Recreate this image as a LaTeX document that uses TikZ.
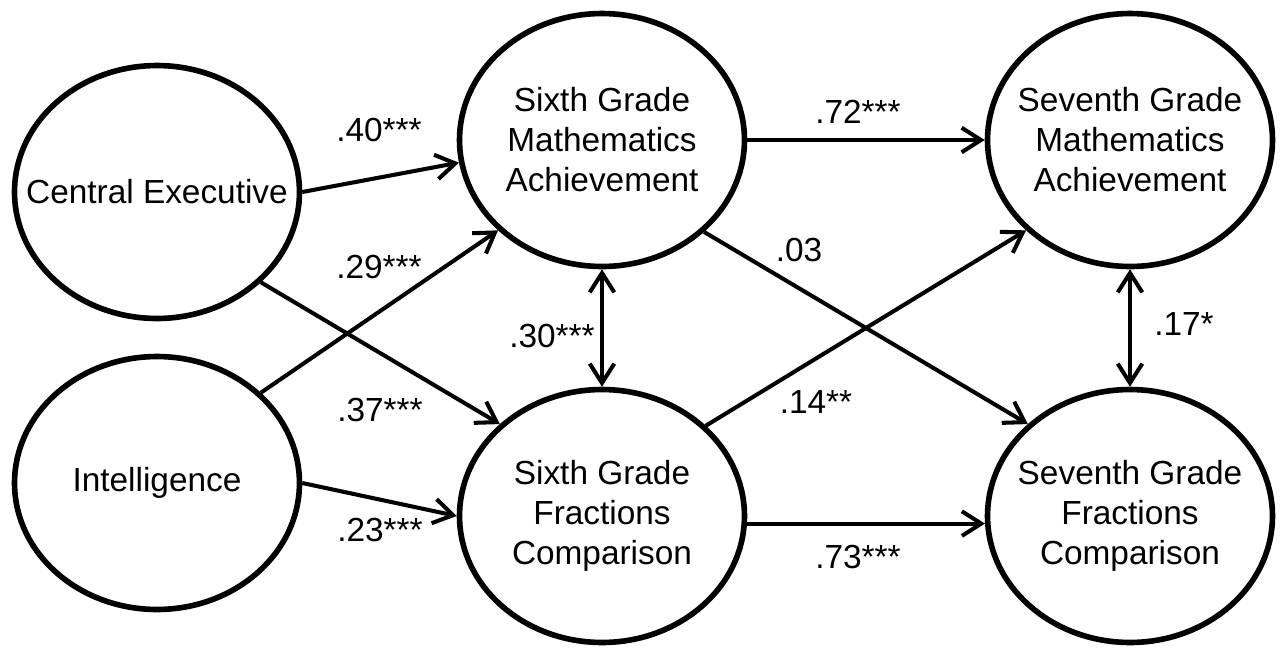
\documentclass[tikz,border=0pt]{standalone}
\usepackage{fontspec}
\setmainfont{Liberation Sans}
\usetikzlibrary{arrows.meta,shapes.geometric}

\begin{document}
\begin{tikzpicture}[x=0.02cm,y=-0.02cm,
  font=\fontsize{19}{22.8}\selectfont,
  construct/.style={ellipse,draw,line width=3.2pt,inner sep=0pt,
    minimum width=5.7cm,minimum height=5.06cm,
    label={[align=center]center:#1}},
  effect/.style={line width=2.3pt,-{Straight Barb[length=11pt,width=14pt]}},
  cov/.style={line width=2.3pt,
    {Straight Barb[length=11pt,width=14pt]}-{Straight Barb[length=11pt,width=14pt]}},
  coef/.style={inner sep=0pt}]
  \useasboundingbox (0,0) rectangle (1286,650);
  % predictors
  \node[construct={Central Executive}] (ce) at (157,192) {};
  \node[construct={Intelligence}] (intel) at (157,483) {};
  % sixth grade
  \node[construct={Sixth Grade\\Mathematics\\Achievement}] (m6) at (602,140) {};
  \node[construct={Sixth Grade\\Fractions\\Comparison}] (f6) at (602,516) {};
  % seventh grade
  \node[construct={Seventh Grade\\Mathematics\\Achievement}] (m7) at (1130,140) {};
  \node[construct={Seventh Grade\\Fractions\\Comparison}] (f7) at (1130,516) {};
  % paths from predictors
  \draw[effect] (ce.east) -- (m6.189.7);
  \draw[effect] (intel.41.5) -- (m6.221.8);
  \draw[effect] (ce.319.1) -- (f6.138.8);
  \draw[effect] (intel.east) -- (f6.west);
  \node[coef] (b40) at (379,130) {.40***};
  \node[coef] (b29) at (379,267) {.29***};
  \node[coef] (b37) at (380,410) {.37***};
  \node[coef] (b23) at (380,530) {.23***};
  % within-grade covariances
  \draw[cov] (m6.south) -- (f6.north);
  \draw[cov] (m7.south) -- (f7.north);
  \node[coef] (r30) at (552,336) {.30***};
  \node[coef] (r17) at (1184,324) {.17*};
  % sixth to seventh grade
  \draw[effect] (m6.east) -- (m7.west);
  \draw[effect] (m6.318.5) -- (f7.138.2);
  \draw[effect] (f6.41.5) -- (m7.221.8);
  \draw[effect] (f6.-3.5) -- (f7.183.6);
  \node[coef] (b72) at (858,112) {.72***};
  \node[coef] (b03) at (799,250) {.03};
  \node[coef] (b14) at (816,402) {.14**};
  \node[coef] (b73) at (858,557) {.73***};
\end{tikzpicture}
\end{document}
